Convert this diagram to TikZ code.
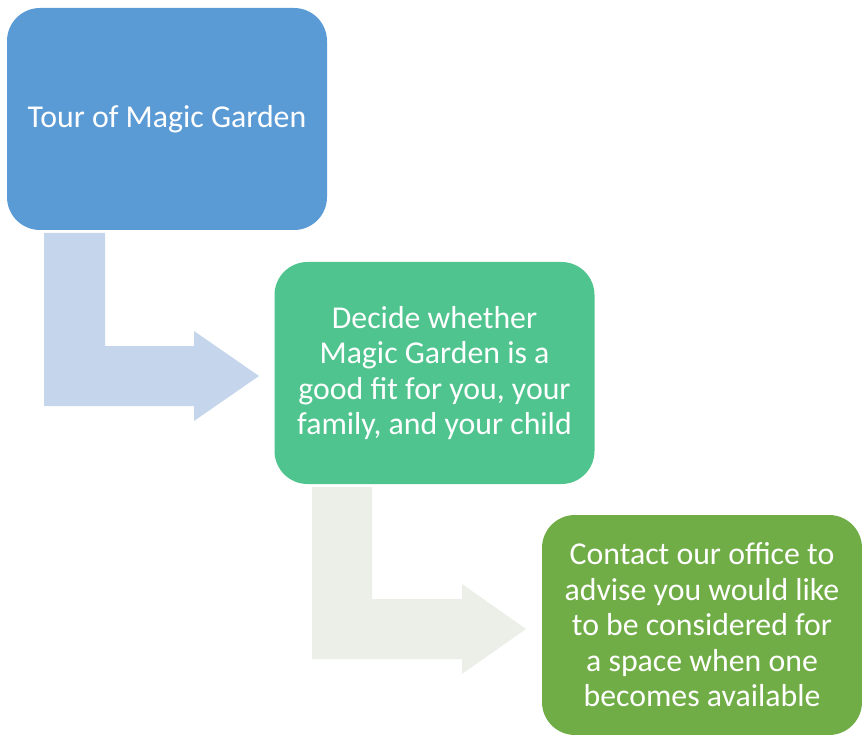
\documentclass[tikz,border=0pt]{standalone}
\usepackage{fontspec}
\setmainfont{Carlito}
\definecolor{tourblue}{RGB}{91,155,213}
\definecolor{decidegreen}{RGB}{79,196,142}
\definecolor{contactgreen}{RGB}{112,173,71}
\definecolor{arrowblue}{RGB}{197,213,235}
\definecolor{arrowgrey}{RGB}{235,239,232}
\begin{document}
\begin{tikzpicture}[x=1pt,y=-1pt,
  stepbox/.style={rounded corners=33pt,minimum width=320pt,minimum height=222pt,
    align=center,text=white,font=\fontsize{31.8}{35.5}\selectfont,inner sep=0pt}]
\useasboundingbox (0,0) rectangle (862,735);
\fill[arrowblue] (44,233) -- (105,233) -- (105,346) -- (194,346) -- (194,331) -- (259,376)
  -- (194,421) -- (194,406) -- (44,406) -- cycle;
\fill[arrowgrey] (312,487) -- (372,487) -- (372,599) -- (462,599) -- (462,584) -- (526,629)
  -- (462,674) -- (462,659) -- (312,659) -- cycle;
\node[stepbox,fill=tourblue] (tour) at (167,119) {Tour of Magic Garden};
\node[stepbox,fill=decidegreen] (decide) at (434.5,373) {Decide whether\\Magic Garden is a\\good fit for you, your\\family, and your child};
\node[stepbox,fill=contactgreen,minimum height=220pt] (contact) at (702,625) {Contact our office to\\advise you would like\\to be considered for\\a space when one\\becomes available};
\end{tikzpicture}
\end{document}
